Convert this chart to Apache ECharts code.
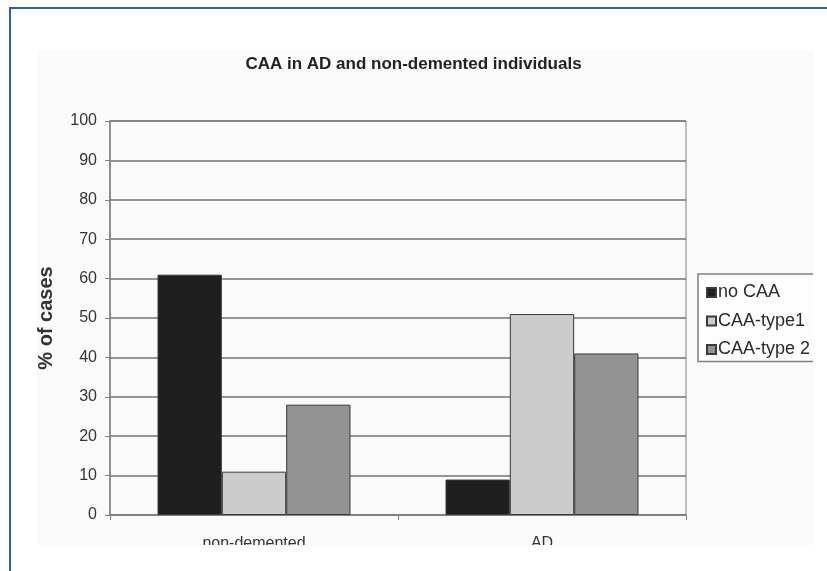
<!DOCTYPE html>
<html>
<head>
<meta charset="utf-8">
<script src="https://cdn.jsdelivr.net/npm/echarts@6/dist/echarts.min.js"></script>
<style>
  html, body { margin: 0; padding: 0; background: #ffffff; }
  #chart { width: 827px; height: 571px; }
</style>
</head>
<body>
<div id="chart"></div>
<script>
// Share of cases by CAA status in each group (%)
const categories = ['non-demented', 'AD'];
const noCAA = [61, 9];
const caaType1 = [11, 51];
const caaType2 = [28, 41];
const seriesNames = ['no CAA', 'CAA-type1', 'CAA-type 2'];
const yMin = 0, yMax = 100, yStep = 10;

const FONT = "'Liberation Sans', Arial, sans-serif";
const chart = echarts.init(document.getElementById('chart'), null, { renderer: 'canvas' });

function barSeries(name, data, color) {
  return {
    name: name,
    type: 'bar',
    data: data,
    barGap: '0%',
    barCategoryGap: '33%',
    itemStyle: { color: color, borderColor: '#3a3a3a', borderWidth: 1 }
  };
}

chart.setOption({
  backgroundColor: '#ffffff',
  animation: false,
  title: {
    text: 'CAA in AD and non-demented individuals',
    left: 'center',
    top: 51,
    textStyle: { fontFamily: FONT, fontSize: 17, fontWeight: 'bold', color: '#222' }
  },
  grid: {
    left: 110, right: 141, top: 121, bottom: 56,
    show: true, borderColor: '#808080', borderWidth: 1, backgroundColor: 'transparent'
  },
  legend: {
    orient: 'vertical',
    left: 698, top: 274,
    padding: [9.5, 60, 3, 8],
    itemWidth: 9, itemHeight: 9, itemGap: 10.5,
    icon: 'rect',
    borderColor: '#808080', borderWidth: 1.5,
    backgroundColor: '#fdfdfd',
    textStyle: { fontFamily: FONT, fontSize: 18, color: '#2a2a2a', lineHeight: 18, padding: [0, 0, 0, -3] },
    data: seriesNames
  },
  xAxis: {
    type: 'category',
    data: categories,
    axisLine: { lineStyle: { color: '#808080', width: 1.5 } },
    axisTick: { show: true, length: 5, lineStyle: { color: '#808080' } },
    axisLabel: { fontFamily: FONT, fontSize: 16, color: '#333', margin: 21 }
  },
  yAxis: {
    type: 'value',
    min: yMin, max: yMax, interval: yStep,
    name: '% of cases',
    nameLocation: 'middle',
    nameRotate: 90,
    nameGap: 54,
    nameTextStyle: { fontFamily: FONT, fontSize: 20, fontWeight: 'bold', color: '#333' },
    axisLine: { show: true, lineStyle: { color: '#808080', width: 1.5 } },
    axisTick: { show: true, length: 5, lineStyle: { color: '#808080' } },
    axisLabel: { fontFamily: FONT, fontSize: 16, color: '#333', margin: 13 },
    splitLine: { show: true, lineStyle: { color: '#737373', width: 1.5 } }
  },
  series: [
    barSeries(seriesNames[0], noCAA, '#1f1f1f'),
    barSeries(seriesNames[1], caaType1, '#cccccc'),
    barSeries(seriesNames[2], caaType2, '#939393')
  ],
  graphic: [
    // figure background panel
    { type: 'rect', z: -10, silent: true, shape: { x: 37, y: 50, width: 776, height: 495 }, style: { fill: '#fafafa' } },
    // panel is cropped on the right and bottom
    { type: 'rect', z: 100, silent: true, shape: { x: 813, y: 9, width: 20, height: 570 }, style: { fill: '#ffffff' } },
    { type: 'rect', z: 100, silent: true, shape: { x: 11, y: 545, width: 820, height: 30 }, style: { fill: '#ffffff' } },
    // page frame
    { type: 'line', z: 101, silent: true, shape: { x1: 10, y1: 8, x2: 10, y2: 571 }, style: { stroke: '#2f5d9e', lineWidth: 2 } },
    { type: 'line', z: 101, silent: true, shape: { x1: 9, y1: 8, x2: 827, y2: 8 }, style: { stroke: '#2f5d9e', lineWidth: 2 } }
  ]
});
</script>
</body>
</html>
